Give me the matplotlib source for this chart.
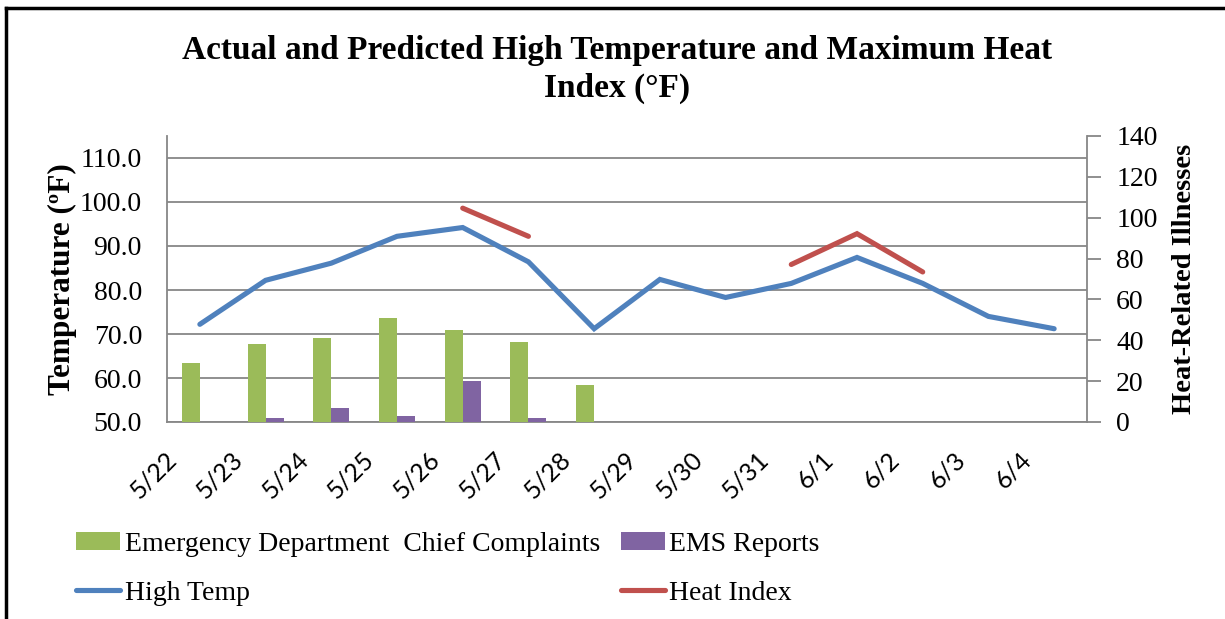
import numpy as np
import matplotlib
matplotlib.use("Agg")
import matplotlib.pyplot as plt
import matplotlib.transforms as mtransforms
from matplotlib.lines import Line2D
from matplotlib.patches import Patch

# ---- data ----
dates = ["5/22", "5/23", "5/24", "5/25", "5/26", "5/27", "5/28",
         "5/29", "5/30", "5/31", "6/1", "6/2", "6/3", "6/4"]
ed_complaints = [29, 38, 41, 51, 45, 39, 18, 0, 0, 0, 0, 0, 0, 0]
ems_reports = [0, 2, 7, 3, 20, 2, 0, 0, 0, 0, 0, 0, 0, 0]
high_temp = [72.2, 82.2, 86.1, 92.2, 94.2, 86.4, 71.2,
             82.4, 78.3, 81.5, 87.4, 81.5, 74.0, 71.2]
heat_index = [np.nan, np.nan, np.nan, np.nan, 98.6, 92.2, np.nan,
              np.nan, np.nan, 85.8, 92.8, 84.1, np.nan, np.nan]
temp_ticks = [50, 60, 70, 80, 90, 100, 110]
ill_ticks = [0, 20, 40, 60, 80, 100, 120, 140]

GREEN = "#9BBB59"
PURPLE = "#8064A2"
BLUE = "#4F81BD"
RED = "#C0504D"
GRID = "#878787"
SERIF = "Liberation Serif"
SANS = "Lato"

W, H = 1225, 619
fig = plt.figure(figsize=(W / 100, H / 100), dpi=100)
pos = [167 / W, 1 - 422 / H, (1087 - 167) / W, (422 - 136) / H]

x = np.arange(len(dates))
LW = 3.7

# base axes: left temperature scale with gridlines
ax = fig.add_axes(pos)
ax.set_xlim(-0.5, len(dates) - 0.5)
ax.set_ylim(50, 115)
ax.set_yticks(temp_ticks)
ax.set_yticklabels([f"{t:.1f}" for t in temp_ticks], fontfamily=SERIF, fontsize=20)
ax.yaxis.grid(True, color=GRID, linewidth=1.3)
ax.set_axisbelow(True)
ax.tick_params(axis="y", length=0, pad=18)
ax.set_xticks(x)
ax.set_xticklabels(dates, rotation=45, ha="right", va="center",
                   rotation_mode="anchor", fontfamily=SANS, fontsize=18)
ax.tick_params(axis="x", length=0, pad=24)
offset = mtransforms.ScaledTranslation(-27 / 100, 0, fig.dpi_scale_trans)
for lbl in ax.get_xticklabels():
    lbl.set_transform(lbl.get_transform() + offset)
for s in ["top", "right"]:
    ax.spines[s].set_visible(False)
for s in ["left", "bottom"]:
    ax.spines[s].set_color(GRID)
    ax.spines[s].set_linewidth(1.3)
ax.set_ylabel("Temperature (ºF)", fontfamily=SERIF, fontsize=22.5,
              fontweight="bold", labelpad=2)

# bars on right scale
ax2 = ax.twinx()
ax2.set_ylim(0, 140)
ax2.set_yticks(ill_ticks)
ax2.set_yticklabels([str(t) for t in ill_ticks], fontfamily=SERIF, fontsize=20)
ax2.tick_params(axis="y", direction="out", length=10, width=1.3, color=GRID, pad=11)
bw = 0.274
ax2.bar(x - bw / 2, ed_complaints, width=bw, color=GREEN, zorder=2)
ax2.bar(x + bw / 2, ems_reports, width=bw, color=PURPLE, zorder=2)
for s in ["top", "left", "bottom"]:
    ax2.spines[s].set_visible(False)
ax2.spines["right"].set_color(GRID)
ax2.spines["right"].set_linewidth(1.3)
ax2.set_ylabel("Heat-Related Illnesses", fontfamily=SERIF, fontsize=20.5,
               fontweight="bold", labelpad=10)

# lines on left scale, drawn on top
ax3 = fig.add_axes(pos, sharex=ax)
ax3.set_ylim(50, 115)
ax3.patch.set_visible(False)
ax3.axis("off")
ax3.plot(x, high_temp, color=BLUE, linewidth=LW, solid_capstyle="round",
         solid_joinstyle="miter")
ax3.plot(x, heat_index, color=RED, linewidth=LW, solid_capstyle="round",
         solid_joinstyle="miter")

# title
fig.text(617 / W, 1 - 35 / H,
         "Actual and Predicted High Temperature and Maximum Heat\nIndex (°F)",
         ha="center", va="top", fontfamily=SERIF, fontsize=24,
         fontweight="bold", linespacing=1.28)

# legend
handles = [Patch(facecolor=GREEN), Line2D([], [], color=BLUE, linewidth=LW, solid_capstyle="round"),
           Patch(facecolor=PURPLE), Line2D([], [], color=RED, linewidth=LW, solid_capstyle="round")]
labels = ["Emergency Department  Chief Complaints", "High Temp", "EMS Reports", "Heat Index"]
leg = fig.legend(handles, labels, loc="upper left", bbox_to_anchor=(76 / W, 1 - 532 / H),
                 ncol=2, frameon=False, prop={"family": SERIF, "size": 20},
                 handlelength=1.6, handleheight=0.6, handletextpad=0.15,
                 labelspacing=0.85, columnspacing=0.75, borderpad=0, borderaxespad=0)

# outer frame (top and left edges)
fig.add_artist(Line2D([6 / W, 1], [1 - 7.5 / H, 1 - 7.5 / H], color="black", linewidth=2.5,
                      transform=fig.transFigure))
fig.add_artist(Line2D([6 / W, 6 / W], [0, 1 - 7.5 / H], color="black", linewidth=2.5,
                      transform=fig.transFigure))

fig.savefig("out.png", dpi=100)
